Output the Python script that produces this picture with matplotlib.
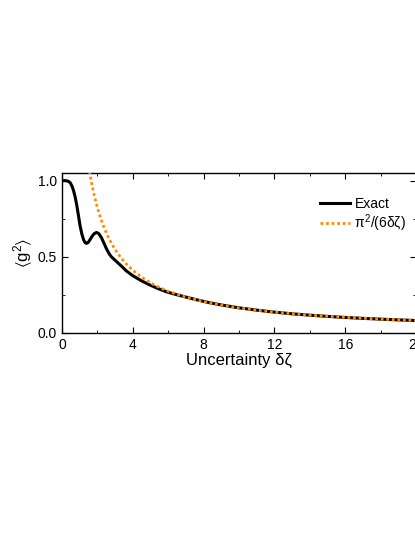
import matplotlib
matplotlib.use("Agg")
import matplotlib.pyplot as plt
from matplotlib.ticker import MultipleLocator

# values
exact_x = [0.0, 0.2, 0.37, 0.47, 0.56, 0.65, 0.74, 0.84, 0.93, 1.02, 1.12, 1.22, 1.30, 1.38,
           1.48, 1.58, 1.70, 1.82, 1.95, 2.08, 2.23, 2.37, 2.51, 2.65, 2.79, 2.93, 3.07,
           3.35, 3.63, 4.0, 4.5, 4.93, 5.4, 5.86, 6.3, 6.79, 7.5, 8.28, 9.0, 10.0, 11.0,
           12.0, 13.0, 14.0, 15.0, 16.0, 17.0, 18.0, 19.0, 20.0]
exact_y = [1.0, 1.0, 0.995, 0.985, 0.965, 0.935, 0.895, 0.835, 0.77, 0.705, 0.65, 0.612,
           0.594, 0.588, 0.594, 0.612, 0.635, 0.652, 0.66, 0.652, 0.625, 0.59, 0.553,
           0.523, 0.50, 0.485, 0.47, 0.44, 0.408, 0.376, 0.342, 0.317, 0.293, 0.272,
           0.257, 0.242, 0.221, 0.200, 0.184, 0.165, 0.150, 0.137, 0.126, 0.117, 0.109,
           0.102, 0.096, 0.091, 0.086, 0.082]

approx_x = [1.5, 1.6, 1.7, 1.8, 1.9, 2.0, 2.2, 2.4, 2.6, 2.8, 3.0, 3.3, 3.6, 4.0, 4.5,
            5.0, 5.5, 6.0, 7.0, 8.0, 9.0, 10.0, 11.0, 12.0, 13.0, 14.0, 15.0, 16.0,
            17.0, 18.0, 19.0, 20.0]
approx_y = [1.097, 1.028, 0.968, 0.914, 0.866, 0.822, 0.748, 0.685, 0.633, 0.587, 0.548,
            0.498, 0.457, 0.411, 0.366, 0.329, 0.299, 0.274, 0.235, 0.206, 0.183, 0.164,
            0.150, 0.137, 0.127, 0.117, 0.110, 0.103, 0.097, 0.091, 0.087, 0.082]

plt.rcParams["font.family"] = ["Liberation Sans", "DejaVu Sans"]
plt.rcParams["mathtext.fontset"] = "custom"
plt.rcParams["mathtext.rm"] = "Liberation Sans"
plt.rcParams["mathtext.it"] = "Liberation Sans"
plt.rcParams["mathtext.fallback"] = "stixsans"

fig = plt.figure(figsize=(4.15, 5.37), dpi=100)
ax = fig.add_axes([62 / 415, 1 - 333 / 537, 354 / 415, 160 / 537])

ax.plot(exact_x, exact_y, color="black", lw=2.2, label="Exact", zorder=2)
ax.plot(approx_x, approx_y, color="#ff8c00", lw=2.0, ls=(0, (1, 1)),
        label="$\\pi^2$/(6δζ)", zorder=3)

ax.set_xlim(0, 20)
ax.set_ylim(0, 1.05)
ax.xaxis.set_major_locator(MultipleLocator(4))
ax.xaxis.set_minor_locator(MultipleLocator(2))
ax.yaxis.set_major_locator(MultipleLocator(0.5))
ax.yaxis.set_minor_locator(MultipleLocator(0.25))
ax.tick_params(which="both", direction="in", top=True, right=True, labelsize=10)
ax.tick_params(which="major", length=4)
ax.tick_params(which="minor", length=2.5)
for s in ax.spines.values():
    s.set_linewidth(1.0)

ax.set_xlabel("Uncertainty δζ", fontsize=12, labelpad=1)
ax.set_ylabel("$\\langle$g$^2\\rangle$", fontsize=12, labelpad=2)

ax.legend(loc="upper right", bbox_to_anchor=(1.008, 0.93), frameon=False, fontsize=10,
          handlelength=2.2, handletextpad=0.3, labelspacing=0.1)

fig.savefig("out.png", dpi=100)
